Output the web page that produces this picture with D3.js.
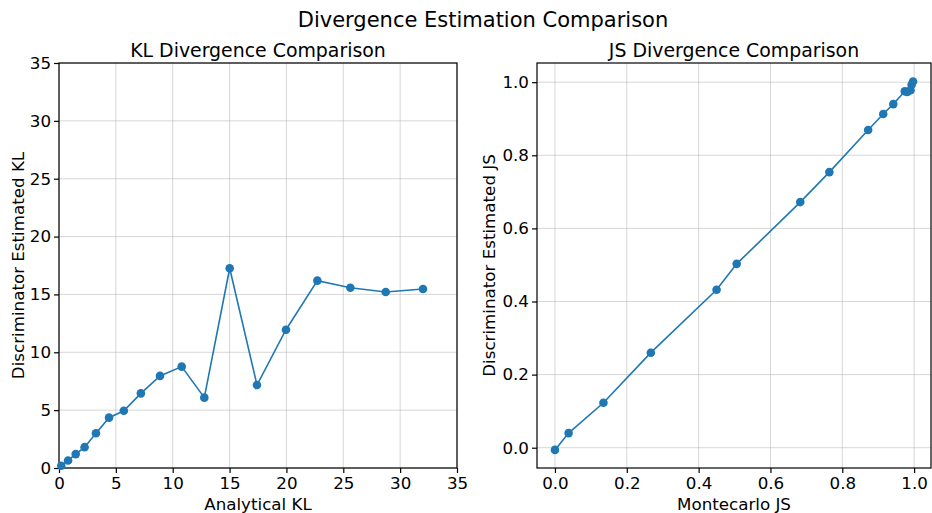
<!DOCTYPE html>
<html>
<head>
<meta charset="utf-8">
<script src="https://cdn.jsdelivr.net/npm/d3@7"></script>
<style>
  html, body { margin: 0; padding: 0; background: #fff; }
  svg { display: block; font-family: "DejaVu Sans", sans-serif; }
</style>
</head>
<body>
<svg id="chart" width="932" height="513"></svg>
<script>
// KL panel: analytical vs discriminator-estimated KL
const klAnalytical = [0.2, 0.8, 1.47, 2.25, 3.25, 4.4, 5.7, 7.2, 8.88, 10.79, 12.78, 15.01, 17.41, 19.96, 22.72, 25.62, 28.73, 32.01];
const klEstimated  = [0.2, 0.65, 1.2, 1.8, 3.0, 4.35, 4.95, 6.45, 7.96, 8.76, 6.08, 17.26, 7.17, 11.95, 16.19, 15.58, 15.21, 15.47];
const klTicks = [0, 5, 10, 15, 20, 25, 30, 35];

// JS panel: Monte Carlo vs discriminator-estimated JS
const jsMontecarlo = [0.0, 0.038, 0.135, 0.267, 0.45, 0.506, 0.683, 0.764, 0.872, 0.914, 0.942, 0.974, 0.981, 0.99, 0.993, 0.997];
const jsEstimated  = [-0.006, 0.040, 0.123, 0.26, 0.432, 0.503, 0.672, 0.754, 0.869, 0.913, 0.94, 0.975, 0.973, 0.978, 0.993, 1.002];
const jsTicks = [0.0, 0.2, 0.4, 0.6, 0.8, 1.0];

const svg = d3.select("#chart");
const blue = "#1f77b4";
const tickFont = 16.7;

svg.append("text")
  .attr("x", 483).attr("y", 27)
  .attr("text-anchor", "middle")
  .attr("font-size", 21)
  .text("Divergence Estimation Comparison");

function panel(opts) {
  const { left, right, top, bottom, xDomain, yDomain, xTicks, yTicks, fmt, xs, ys, title, xLabel, yLabel, yLabelX } = opts;
  const x = d3.scaleLinear().domain(xDomain).range([left, right]);
  const y = d3.scaleLinear().domain(yDomain).range([bottom, top]);
  const g = svg.append("g");

  // grid
  g.append("g").selectAll("line").data(xTicks).join("line")
    .attr("x1", d => x(d)).attr("x2", d => x(d))
    .attr("y1", top).attr("y2", bottom)
    .attr("stroke", "#b0b0b0").attr("stroke-opacity", 0.5).attr("stroke-width", 1);
  g.append("g").selectAll("line").data(yTicks).join("line")
    .attr("y1", d => y(d)).attr("y2", d => y(d))
    .attr("x1", left).attr("x2", right)
    .attr("stroke", "#b0b0b0").attr("stroke-opacity", 0.5).attr("stroke-width", 1);

  // axes
  const xAxis = g.append("g").attr("transform", `translate(0,${bottom})`)
    .call(d3.axisBottom(x).tickValues(xTicks).tickFormat(fmt).tickSize(5).tickPadding(4));
  const yAxis = g.append("g").attr("transform", `translate(${left},0)`)
    .call(d3.axisLeft(y).tickValues(yTicks).tickFormat(fmt).tickSize(5).tickPadding(3));
  [xAxis, yAxis].forEach(a => {
    a.select(".domain").remove();
    a.selectAll("text").attr("font-size", tickFont).attr("fill", "#000").attr("font-family", "DejaVu Sans, sans-serif");
    a.selectAll("line").attr("stroke", "#000").attr("stroke-width", 1.2);
  });

  // frame
  g.append("rect")
    .attr("x", left).attr("y", top)
    .attr("width", right - left).attr("height", bottom - top)
    .attr("fill", "none").attr("stroke", "#000").attr("stroke-width", 1.2);

  // data
  const pts = xs.map((d, i) => [d, ys[i]]);
  g.append("path").datum(pts)
    .attr("fill", "none").attr("stroke", blue).attr("stroke-width", 1.6)
    .attr("d", d3.line().x(d => x(d[0])).y(d => y(d[1])));
  g.append("g").selectAll("circle").data(pts).join("circle")
    .attr("cx", d => x(d[0])).attr("cy", d => y(d[1]))
    .attr("r", 4.3).attr("fill", blue);

  // labels
  g.append("text").attr("x", (left + right) / 2).attr("y", top - 6)
    .attr("text-anchor", "middle").attr("font-size", 18.9).text(title);
  g.append("text").attr("x", (left + right) / 2).attr("y", 510)
    .attr("text-anchor", "middle").attr("font-size", tickFont).text(xLabel);
  g.append("text")
    .attr("transform", `translate(${yLabelX},${(top + bottom) / 2}) rotate(-90)`)
    .attr("text-anchor", "middle").attr("font-size", tickFont).text(yLabel);
}

panel({
  left: 59, right: 457, top: 63, bottom: 468,
  xDomain: [0, 35], yDomain: [0, 35],
  xTicks: klTicks, yTicks: klTicks, fmt: d3.format("d"),
  xs: klAnalytical, ys: klEstimated,
  title: "KL Divergence Comparison",
  xLabel: "Analytical KL", yLabel: "Discriminator Estimated KL", yLabelX: 24
});

panel({
  left: 537, right: 931, top: 63, bottom: 468,
  xDomain: [-0.05, 1.047], yDomain: [-0.0555, 1.0525],
  xTicks: jsTicks, yTicks: jsTicks, fmt: d3.format(".1f"),
  xs: jsMontecarlo, ys: jsEstimated,
  title: "JS Divergence Comparison",
  xLabel: "Montecarlo JS", yLabel: "Discriminator Estimated JS", yLabelX: 495
});
</script>
</body>
</html>
